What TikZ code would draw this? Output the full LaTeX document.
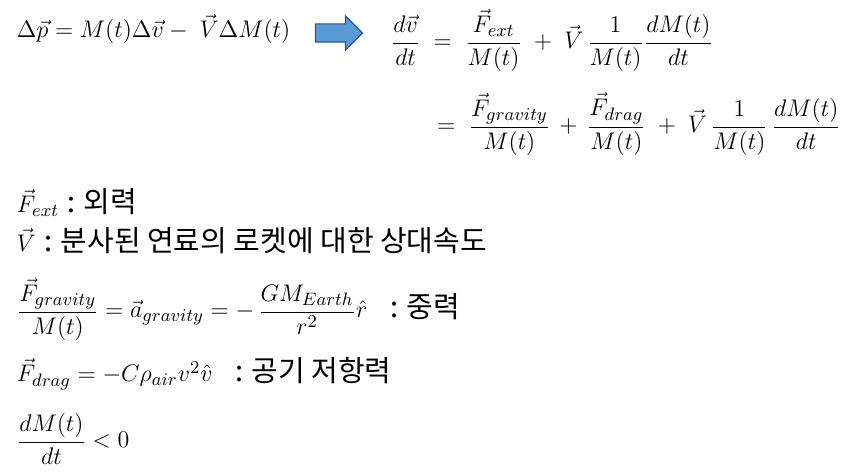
\documentclass[tikz,border=0pt]{standalone}
\usepackage{amsmath}
\usepackage{fontspec}
\newfontfamily\kr{Noto Sans CJK KR}
\usetikzlibrary{shapes.arrows}
\newcommand{\ko}[1]{{\kr\fontsize{14.5}{17}\selectfont #1}}
\definecolor{arrblue}{RGB}{91,155,213}
\definecolor{arrline}{RGB}{47,85,151}

\begin{document}
\begin{tikzpicture}[x=0.5pt,y=-0.5pt]
	\tikzstyle{eq} = [anchor=base west, inner sep=0, outer sep=0, font=\fontsize{12.5}{15}\selectfont]
	\tikzstyle{bigarrow} = [shape=single arrow, draw=arrline, fill=arrblue, line width=0.6pt,
			minimum height=23.5pt, inner xsep=0, inner ysep=4.25pt, single arrow head extend=4pt]

	\useasboundingbox (0,0) rectangle (848,475);

	% top line
	\node [eq] (mom) at (17,38) {$\Delta\vec p = M(t)\Delta\vec v -\; \vec V\Delta M(t)$};
	\node [bigarrow] (arr) at (334.5,33) {};
	\node [eq] (eq1) at (391,49) {$\displaystyle\frac{d\vec v}{dt} \;=\; \frac{\vec F_{ext}}{M(t)} \;+\; \vec V\,\frac{1}{M(t)}\frac{dM(t)}{dt}$};
	\node [eq] (eq2) at (437,133) {$\displaystyle =\; \frac{\vec F_{gravity}}{M(t)} \,+\, \frac{\vec F_{drag}}{M(t)} \;+\; \vec V\,\frac{1}{M(t)}\,\frac{dM(t)}{dt}$};

	% definitions
	\node [eq] (ext) at (17,213) {$\vec F_{ext}$ \ko{: 외력}};
	\node [eq] (rel) at (17,252) {$\vec V$ \ko{: 분사된 연료의 로켓에 대한 상대속도}};
	\node [eq] (grav) at (17,318) {$\displaystyle\frac{\vec F_{gravity}}{M(t)} = \vec a_{gravity} = -\,\frac{GM_{Earth}}{r^2}\hat r$};
	\node [eq] (gravk) at (390,318) {\ko{: 중력}};
	\node [eq] (drag) at (17,382) {$\vec F_{drag} = -C\rho_{air}v^2\hat v$};
	\node [eq] (dragk) at (235,382) {\ko{: 공기 저항력}};
	\node [eq] (dm) at (17,448) {$\displaystyle\frac{dM(t)}{dt} < 0$};
\end{tikzpicture}
\end{document}
